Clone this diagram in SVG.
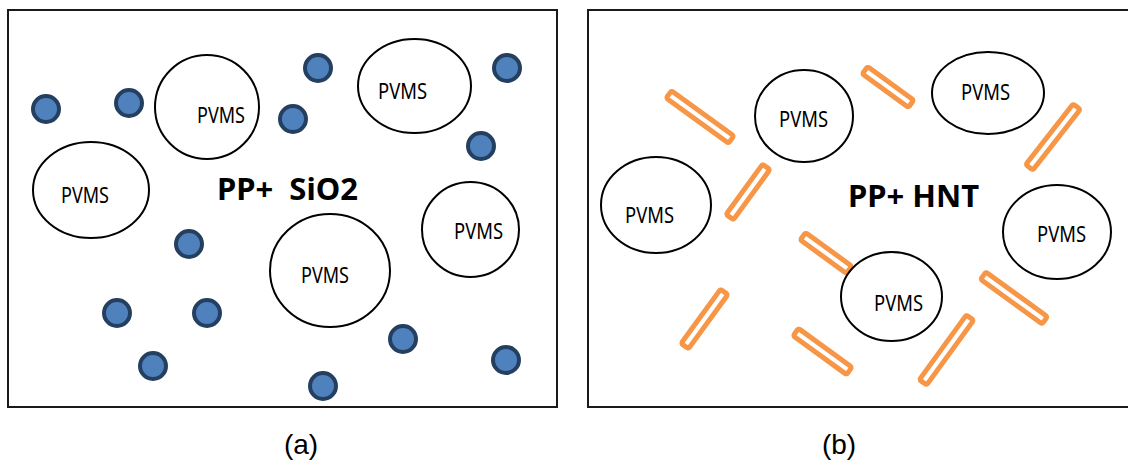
<svg xmlns="http://www.w3.org/2000/svg" width="1128" height="464" viewBox="0 0 1128 464">
<style>
.frame{fill:#ffffff;stroke:#1a1a1a;stroke-width:2}
.pv{fill:none;stroke:#000000;stroke-width:2}
.pt{font-family:"Noto Sans","Open Sans","DejaVu Sans",sans-serif;font-size:21px;fill:#000000}
.big{font-family:"Noto Sans","Open Sans","DejaVu Sans",sans-serif;font-size:31px;font-weight:bold;fill:#000000;white-space:pre}
.cap{font-family:"Liberation Sans",Arial,sans-serif;font-size:28px;fill:#000000;text-anchor:middle}
.dot{fill:#4f81bd;stroke:#243f60;stroke-width:4}
.rod{fill:#ffffff;stroke:#f79646;stroke-width:5;stroke-linejoin:round}
</style>
<g id="panel-a">
<rect class="frame" x="8" y="10" width="549" height="397"/>
<g id="dots-a">
<circle class="dot" cx="46" cy="109" r="13"/>
<circle class="dot" cx="129" cy="103" r="13"/>
<circle class="dot" cx="293" cy="119" r="13"/>
<circle class="dot" cx="318" cy="68" r="13"/>
<circle class="dot" cx="507" cy="68" r="13"/>
<circle class="dot" cx="481" cy="146" r="13"/>
<circle class="dot" cx="189" cy="244" r="13"/>
<circle class="dot" cx="117" cy="313" r="13"/>
<circle class="dot" cx="207" cy="313" r="13"/>
<circle class="dot" cx="153" cy="366" r="13"/>
<circle class="dot" cx="323" cy="386" r="13"/>
<circle class="dot" cx="403" cy="339" r="13"/>
<circle class="dot" cx="506" cy="360" r="13"/>
</g>
<g id="a-pvms1"><ellipse class="pv" cx="207" cy="107" rx="52" ry="52"/><text class="pt" x="197" y="123" textLength="48" lengthAdjust="spacingAndGlyphs">PVMS</text></g>
<g id="a-pvms2"><ellipse class="pv" cx="91" cy="190" rx="58" ry="48"/><text class="pt" x="61" y="203" textLength="48" lengthAdjust="spacingAndGlyphs">PVMS</text></g>
<g id="a-pvms3"><ellipse class="pv" cx="414.5" cy="86" rx="56.5" ry="47"/><text class="pt" x="378" y="99" textLength="49" lengthAdjust="spacingAndGlyphs">PVMS</text></g>
<g id="a-pvms4"><ellipse class="pv" cx="470.5" cy="229.5" rx="48.5" ry="47.5"/><text class="pt" x="454" y="239" textLength="49" lengthAdjust="spacingAndGlyphs">PVMS</text></g>
<g id="a-pvms5"><ellipse class="pv" cx="330" cy="270.5" rx="60" ry="56.5"/><text class="pt" x="301" y="283" textLength="48" lengthAdjust="spacingAndGlyphs">PVMS</text></g>
<text id="a-title" class="big" x="217" y="200" xml:space="preserve">PP+  SiO2</text>
<text id="a-label" class="cap" x="301" y="454">(a)</text>
</g>
<g id="panel-b">
<rect class="frame" x="588" y="10" width="560" height="397"/>
<g id="rods-b">
<rect class="rod" x="-38.5" y="-4.5" width="77" height="9" rx="2" transform="translate(700,117) rotate(36)"/>
<rect class="rod" x="-31" y="-4.5" width="62" height="9" rx="2" transform="translate(748,192) rotate(-54)"/>
<rect class="rod" x="-28.5" y="-4.5" width="57" height="9" rx="2" transform="translate(888,87) rotate(36)"/>
<rect class="rod" x="-38.5" y="-4.5" width="77" height="9" rx="2" transform="translate(1053,137) rotate(-52)"/>
<rect class="rod" x="-28.5" y="-4.5" width="57" height="9" rx="2" transform="translate(826,253) rotate(36)"/>
<rect class="rod" x="-33" y="-4.5" width="66" height="9" rx="2" transform="translate(822.5,351.5) rotate(36)"/>
<rect class="rod" x="-40" y="-4.5" width="80" height="9" rx="2" transform="translate(946.5,350) rotate(-54)"/>
<rect class="rod" x="-38" y="-4.5" width="76" height="9" rx="2" transform="translate(1014,298) rotate(36)"/>
<rect class="rod" x="-33.5" y="-4.5" width="67" height="9" rx="2" transform="translate(704.5,319) rotate(-54)"/>
</g>
<g id="b-pvms1"><ellipse class="pv" cx="804" cy="116" rx="49" ry="46"/><text class="pt" x="779" y="127" textLength="49" lengthAdjust="spacingAndGlyphs">PVMS</text></g>
<g id="b-pvms2"><ellipse class="pv" cx="656" cy="205" rx="55" ry="48"/><text class="pt" x="625" y="223" textLength="49" lengthAdjust="spacingAndGlyphs">PVMS</text></g>
<g id="b-pvms3"><ellipse class="pv" cx="988" cy="93" rx="56" ry="41"/><text class="pt" x="961" y="100" textLength="49" lengthAdjust="spacingAndGlyphs">PVMS</text></g>
<g id="b-pvms4"><ellipse class="pv" cx="1057" cy="232" rx="54" ry="47"/><text class="pt" x="1037" y="242" textLength="49" lengthAdjust="spacingAndGlyphs">PVMS</text></g>
<g id="b-pvms5"><ellipse class="pv" cx="891.5" cy="296.5" rx="50.5" ry="44.5"/><text class="pt" x="874" y="311" textLength="49" lengthAdjust="spacingAndGlyphs">PVMS</text></g>
<text id="b-title" class="big" x="848" y="207">PP+ HNT</text>
<text id="b-label" class="cap" x="839" y="454">(b)</text>
</g>
</svg>
